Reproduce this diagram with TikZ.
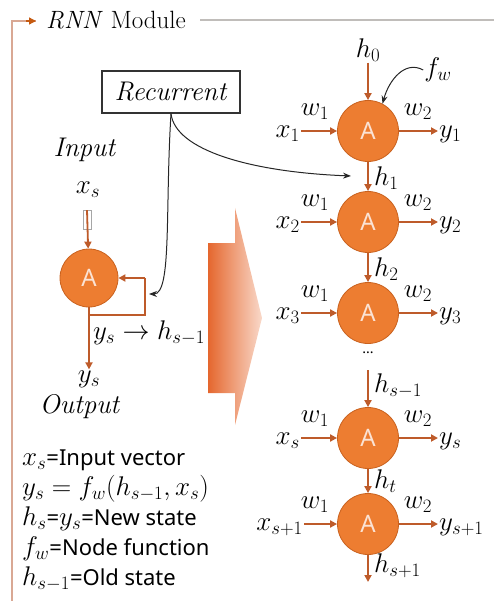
\RequirePackage{fix-cm}
\documentclass[tikz,border=0pt]{standalone}
\usepackage{fontspec}
\newfontfamily\sansf{Noto Sans}
\newcommand\sw{\sansf\fontsize{22}{26}\selectfont}
\usetikzlibrary{arrows.meta}
\definecolor{unitfill}{HTML}{ED7D31}
\definecolor{unitdraw}{HTML}{C9621F}
\definecolor{arrcol}{HTML}{BE5B2A}
\definecolor{framecol}{HTML}{D9A894}
\definecolor{tipcol}{HTML}{C55A11}
\definecolor{greyline}{HTML}{C0BDBA}
\definecolor{letter}{HTML}{FBE3D5}
\definecolor{shadeL}{HTML}{E5672E}
\definecolor{shadeR}{HTML}{F9D9CA}
\begin{document}
\begin{tikzpicture}[x=1pt,y=-1pt,
  every node/.style={font=\fontsize{27}{32}\selectfont, inner sep=1pt},
  unit/.style={circle, fill=unitfill, draw=unitdraw, line width=0.8pt, minimum size=61pt, inner sep=0pt, text=letter, font=\sansf\fontsize{24}{28}\selectfont},
  arr/.style={draw=arrcol, line width=1.8pt, -{Triangle[length=7pt,width=7pt]}},
  bline/.style={draw=arrcol, line width=1.8pt},
  blk/.style={draw=black!85, line width=1pt, -{Stealth[length=8pt,width=6pt]}},
  legend/.style={anchor=base west, inner sep=0pt}]
\useasboundingbox (0,0) rectangle (494,601);
% frame
\node[anchor=base west, inner sep=0pt, font=\fontsize{25}{30}\selectfont] (title) at (46,29) {\textit{RNN} Module};
\coordinate (fbot) at (12,601);
\coordinate (ftop) at (12,21);
\coordinate (ftip) at (36,21);
\coordinate (gstart) at (200,20);
\coordinate (gend) at (494,20);
\draw[framecol, line width=1.3pt] (fbot) -- (ftop) -- (ftip);
\draw[tipcol, line width=1.3pt, -{Triangle[length=7pt,width=7pt]}] (26,21) -- (ftip);
\draw[greyline, line width=1.5pt] (gstart) -- (gend);
% right column units
\node[unit] (c1) at (368,131) {A};
\node[unit] (c2) at (368,222) {A};
\node[unit] (c3) at (368,313) {A};
\node[unit] (c4) at (368,438) {A};
\node[unit] (c5) at (368,524) {A};
% inputs
\node[anchor=east] (x1) at (301,134) {$x_1$};
\node[anchor=east] (x2) at (301,225) {$x_2$};
\node[anchor=east] (x3) at (301,316) {$x_3$};
\node[anchor=east] (x4) at (301,441) {$x_s$};
\node[anchor=east] (x5) at (304,527) {$x_{s+1}$};
\foreach \i in {1,...,5}{
  \draw[arr] (x\i.east |- c\i) -- (c\i);
}
% outputs
\node[anchor=west] (y1) at (438,134) {$y_1$};
\node[anchor=west] (y2) at (438,225) {$y_2$};
\node[anchor=west] (y3) at (438,316) {$y_3$};
\node[anchor=west] (y4) at (438,441) {$y_s$};
\node[anchor=west] (y5) at (438,527) {$y_{s+1}$};
\foreach \i in {1,...,5}{
  \draw[arr] (c\i) -- (y\i.west |- c\i);
}
% weights
\foreach \i/\yy in {1/131,2/222,3/313,4/438,5/524}{
  \node (wa\i) at (315,\yy-19) {$w_1$};
  \node (wb\i) at (418,\yy-19) {$w_2$};
}
% vertical chain
\node (h0) at (368,50) {$h_0$};
\draw[arr] (h0) -- (c1);
\draw[arr] (c1) -- (c2);
\draw[arr] (c2) -- (c3);
\node[anchor=west] (h1) at (373,178) {$h_1$};
\node[anchor=west] (h2) at (373,269) {$h_2$};
\node (dots) at (368,353) {\sansf\fontsize{14}{14}\selectfont ...};
\coordinate (hsm) at (368,370);
\draw[arr] (hsm) -- (c4);
\node[anchor=west] (hsml) at (373,386) {$h_{s-1}$};
\draw[arr] (c4) -- (c5);
\node[anchor=west] (ht) at (373,481) {$h_t$};
\coordinate (hend) at (368,582);
\draw[arr] (c5) -- (hend);
\node[anchor=west] (hsp) at (373,566) {$h_{s+1}$};
% f_w
\node (fw) at (438,70) {$f_w$};
\draw[blk] (fw.west) .. controls (405,60) and (389,80) .. (c1.62);
% left unit
\node[unit, minimum size=58pt] (cl) at (89,278) {A};
\node (inp) at (85,150) {\textit{Input}};
\node (xs) at (88,190) {$x_s$};
\node[draw=black!35, line width=0.8pt, fill=white, minimum width=8pt, minimum height=19pt, inner sep=0pt] (sb) at (87,220) {};
\draw[arr] (sb.north) -- (cl);
\coordinate (fb1) at (89,315);
\coordinate (fb2) at (145,278);
\draw[bline] (fb1) -| (fb2);
\draw[arr] (fb2) -- (cl);
\node (ysout) at (89,379) {$y_s$};
\draw[arr] (cl) -- (ysout);
\node (outp) at (80,407) {\textit{Output}};
\node (yh) at (149,333) {$y_s \rightarrow h_{s-1}$};
% recurrent
\node[draw=black!80, line width=1.1pt, minimum width=138pt, minimum height=42pt, inner sep=0pt] (rec) at (171,92) {\textit{Recurrent}};
\coordinate (recl) at (149,294);
\coordinate (recr) at (351,176);
\draw[blk] (rec.south) .. controls (165,210) and (172,294) .. (recl);
\draw[blk] (rec.south) .. controls (175,150) and (250,172) .. (recr);
% big arrow
\shade[left color=shadeL, right color=shadeR] (208,243) -- (235,243) -- (235,208) -- (262,318) -- (235,425) -- (235,393) -- (208,393) -- cycle;
% legend
\node[legend] (l1) at (22,465) {$x_s${\sw=Input vector}};
\node[legend] (l2) at (22,495) {$y_s = f_w(h_{s-1}, x_s)$};
\node[legend] (l3) at (22,525) {$h_s${\sw=}$y_s${\sw=New state}};
\node[legend] (l4) at (22,555) {$f_w${\sw=Node function}};
\node[legend] (l5) at (22,585) {$h_{s-1}${\sw=Old state}};
\end{tikzpicture}
\end{document}
